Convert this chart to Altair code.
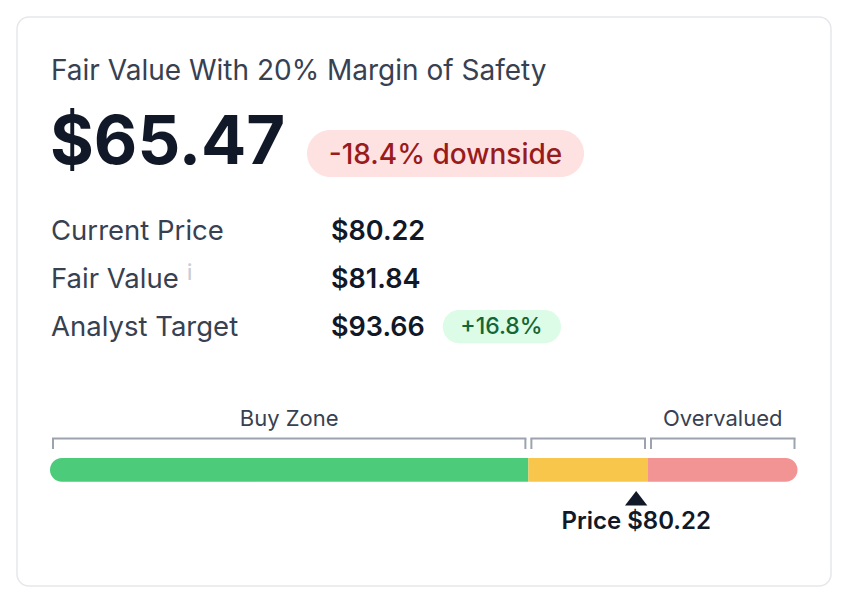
import altair as alt
import pandas as pd

headline_title = "Fair Value With 20% Margin of Safety"
fair_value_mos = 65.47
downside_pct = -18.4
row_labels = ["Current Price", "Fair Value", "Analyst Target"]
row_values = [80.22, 81.84, 93.66]
analyst_upside_pct = 16.8

zone_names = ["Buy Zone", "", "Overvalued"]
zone_start = [0.0, 65.47, 81.84]
zone_end = [65.47, 81.84, 102.3]
zone_colors = ["#4ccb7b", "#f7c64b", "#f29494"]
current_price = 80.22

FONT = "Inter"
DARK = "#111827"
GREY = "#374151"

zones = pd.DataFrame({"name": zone_names, "start": zone_start,
                      "end": zone_end, "color": zone_colors})
rows = pd.DataFrame({"label": row_labels, "value": row_values,
                     "row": list(range(len(row_labels)))})
price_df = pd.DataFrame({"price": [current_price]})

price_scale = alt.Scale(domain=[zone_start[0], zone_end[-1]], range=[42, 789.5])


def X(field):
    return alt.X(field, type="quantitative", scale=price_scale, axis=None)


def label(text, x, y, size, color, weight=400, align="left"):
    return (alt.Chart(pd.DataFrame({"t": [text]}))
            .mark_text(font=FONT, fontSize=size, fontWeight=weight, color=color,
                       align=align, baseline="alphabetic")
            .encode(x=alt.value(x), y=alt.value(y), text="t:N"))


def pill(x, x2, y, y2, fill):
    return (alt.Chart(pd.DataFrame({"a": [0]}))
            .mark_rect(fill=fill, cornerRadius=(y2 - y) / 2)
            .encode(x=alt.value(x), x2=alt.value(x2), y=alt.value(y), y2=alt.value(y2)))


card = (alt.Chart(pd.DataFrame({"a": [0]}))
        .mark_rect(fill="white", stroke="#e5e7eb", strokeWidth=1.5, cornerRadius=12)
        .encode(x=alt.value(9), x2=alt.value(823), y=alt.value(9), y2=alt.value(578)))

title = label(headline_title, 43, 71.5, 28, GREY)
big = label(f"${fair_value_mos:.2f}", 42, 155.5, 67, DARK, weight=700)
down_pill = pill(299, 576, 122, 169, "#fee2e2")
down_text = label(f"{downside_pct:.1f}% downside", 437.5, 156.3, 28, "#991b1b",
                  weight=500, align="center")

row_lab = (alt.Chart(rows)
           .transform_calculate(yy="232 + 48.2 * datum.row")
           .mark_text(font=FONT, fontSize=27.5, color=GREY, align="left",
                      baseline="alphabetic")
           .encode(x=alt.value(43), y=alt.Y("yy:Q", scale=None), text="label:N"))
row_val = (alt.Chart(rows)
           .transform_calculate(yy="232 + 48.2 * datum.row",
                                txt="'$' + format(datum.value, '.2f')")
           .mark_text(font=FONT, fontSize=27, fontWeight=600, color=DARK,
                      align="left", baseline="alphabetic")
           .encode(x=alt.value(323), y=alt.Y("yy:Q", scale=None), text="txt:N"))
info_i = label("i", 179, 272, 21, "#c9cdd5", weight=500)
up_pill = pill(434.7, 553, 302, 335.3, "#dcfce7")
up_text = label(f"+{analyst_upside_pct:.1f}%", 493.5, 326, 23, "#166534",
                weight=500, align="center")

# price bar
seg_mid = alt.Chart(zones.iloc[[1]]).mark_rect().encode(
    x=X("start"), x2="end", y=alt.value(450), y2=alt.value(473.7),
    color=alt.Color("color:N", scale=None))
seg_left = alt.Chart(zones.iloc[[0]]).mark_rect(
    cornerRadiusTopLeft=11.8, cornerRadiusBottomLeft=11.8).encode(
    x=X("start"), x2="end", y=alt.value(450), y2=alt.value(473.7),
    color=alt.Color("color:N", scale=None))
seg_right = alt.Chart(zones.iloc[[2]]).mark_rect(
    cornerRadiusTopRight=11.8, cornerRadiusBottomRight=11.8).encode(
    x=X("start"), x2="end", y=alt.value(450), y2=alt.value(473.7),
    color=alt.Color("color:N", scale=None))

# brackets above the bar
BRK = "#9ca3af"
brk_top = alt.Chart(zones).mark_rule(color=BRK, strokeWidth=2, xOffset=3, x2Offset=-3,
                                     strokeCap="square").encode(
    x=X("start"), x2="end", y=alt.value(430.5))
brk_l = alt.Chart(zones).mark_rule(color=BRK, strokeWidth=2, xOffset=3).encode(
    x=X("start"), y=alt.value(430.5), y2=alt.value(441))
brk_r = alt.Chart(zones).mark_rule(color=BRK, strokeWidth=2, xOffset=-3).encode(
    x=X("end"), y=alt.value(430.5), y2=alt.value(441))
zone_text = (alt.Chart(zones)
             .transform_calculate(mid="(datum.start + datum.end) / 2")
             .mark_text(font=FONT, fontSize=22, color=GREY, align="center",
                        baseline="alphabetic")
             .encode(x=X("mid"), y=alt.value(417.7), text="name:N"))

marker = alt.Chart(price_df).mark_point(
    shape="M0,-0.65L1,0.65L-1,0.65Z", size=500, filled=True, fill=DARK,
    opacity=1, strokeWidth=0).encode(x=X("price"), y=alt.value(490.2))
marker_text = (alt.Chart(price_df)
               .transform_calculate(txt="'Price $' + format(datum.price, '.2f')")
               .mark_text(font=FONT, fontSize=24, fontWeight=600, color=DARK,
                          align="center", baseline="alphabetic")
               .encode(x=X("price"), y=alt.value(521), text="txt:N"))

chart = (alt.layer(card, title, big, down_pill, down_text, row_lab, row_val, info_i,
                   up_pill, up_text, seg_left, seg_mid, seg_right,
                   brk_top, brk_l, brk_r, zone_text, marker, marker_text)
         .properties(width=832, height=586, padding=0,
                     autosize=alt.AutoSizeParams(type="none"))
         .configure_view(stroke=None))

chart.save("out.html", embed_options={"renderer": "svg", "actions": False})
